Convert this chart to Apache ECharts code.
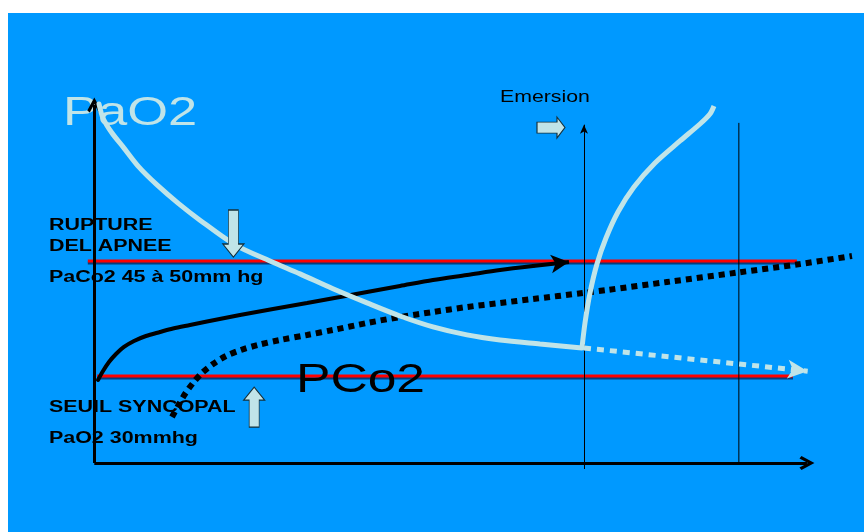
<!DOCTYPE html>
<html>
<head>
<meta charset="utf-8">
<script src="https://cdn.jsdelivr.net/npm/echarts@6/dist/echarts.min.js"></script>
<style>
html,body{margin:0;padding:0;background:#ffffff;}
#chart{width:864px;height:532px;}
</style>
</head>
<body>
<div id="chart"></div>
<script>
// ---- data (schematic units: x = time 0..100, y = pressure 0..100) ----
const xRange = [-1, 106];
const yRange = [-2, 101];

const pao2Fall = [[0.56,98.9],[1.12,95.0],[2.37,90.9],[3.91,87.1],[6.14,81.5],[8.65,76.6],[11.58,71.6],[14.64,66.9],[19.53,60.1],[24.41,55.65],[28.59,52.1],[33.19,48.0],[37.94,44.1],[42.54,40.5],[47.14,37.5],[51.88,35.3],[56.49,33.9],[62.06,32.8],[67.92,31.7]];
const pao2Rise = [[67.92,31.7],[68.34,38.57],[69.04,46.83],[70.01,54.82],[71.27,61.98],[72.94,69.15],[75.17,76.03],[78.10,82.64],[81.59,88.71],[84.38,93.39],[85.77,96.14],[86.33,98.35]];
const pao2After = [[68.2,31.7],[99.4,25.3]];

const pco2Solid = [[0.42,22.87],[1.12,25.34],[1.95,27.82],[2.93,30.03],[4.04,31.96],[5.44,33.61],[7.11,34.99],[9.07,36.09],[10.88,37.05],[13.25,38.02],[15.62,38.98],[20.22,40.77],[24.83,42.42],[29.57,44.08],[34.17,45.73],[37.94,47.11],[42.54,48.76],[47.14,50.41],[51.88,51.79],[56.49,53.17],[61.09,54.27]];
const pco2Arrow = [[61.09,54.27],[66.11,55.37]];
const pco2Dotted = [[10.74,12.67],[11.58,15.70],[12.55,19.01],[13.67,22.04],[14.92,24.79],[16.46,27.27],[18.27,29.48],[20.36,31.13],[22.73,32.51],[25.8,33.88],[29.57,35.26],[33.19,36.64],[37.94,38.57],[42.54,40.22],[47.14,41.6],[51.88,42.98],[56.49,44.08],[61.09,45.18],[68.06,46.83],[71.41,47.66],[79.78,49.86],[89.68,52.48],[98.33,54.82],[105.58,57.02]];

const ruptureLine = [[-1.0,55.65],[97.9,55.65]];
const syncopeLine = [[0.3,24.0],[97.35,24.0]];

const xAxisLine = [[-0.1,0],[99.3,0]];
const yAxisLine = [[-0.1,0],[-0.1,98.6]];
const emersionLine = [[68.2,-1.65],[68.2,93.2]];
const endLine = [[89.8,0],[89.8,93.7]];

const blockArrows = [[19.3,63.2],[22.2,15.4],[63.6,92.4]];

const labelTexts = ['PaO2','Emersion','PCo2','RUPTURE','DEL APNEE','PaCo2 45 à 50mm hg','SEUIL SYNCOPAL','PaO2 30mmhg'];
const labelPos = [[-4.46,96.2],[56.49,100.8],[28.03,22.7],[-6.42,65.3],[-6.42,59.6],[-6.42,51.1],[-6.42,15.2],[-6.42,6.6]];

// ---- styles ----
const BLUE_BG = '#0099FF';
const LIGHT = '#C0E4E8';
const CHEVRON = 'path://M0,13 L7,0 L14,13 L11.5,15 L7,6.5 L2.5,15 Z';
const arrowPaths = [
  'path://M5.5,0 L15.5,0 L15.5,34 L21,34 L10.5,47 L0,34 L5.5,34 Z',
  'path://M5.5,13 L0,13 L10.5,0 L21,13 L15.5,13 L15.5,40 L5.5,40 Z',
  'path://M0,5 L20,5 L20,0 L28,10.5 L20,21 L20,16 L0,16 Z'
];
const arrowSizes = [[21,47],[21,40],[28,21]];
const labelStyles = [
  {font:'normal 41px "Liberation Sans", Arial, sans-serif', fill:LIGHT, sx:1.28, z:1},
  {font:'normal 16px "Liberation Sans", Arial, sans-serif', fill:'#000', sx:1.33, z:10},
  {font:'normal 40px "Liberation Sans", Arial, sans-serif', fill:'#000', sx:1.29, z:10},
  {font:'bold 16px "Liberation Sans", Arial, sans-serif', fill:'#000', sx:1.34, z:10},
  {font:'bold 16px "Liberation Sans", Arial, sans-serif', fill:'#000', sx:1.34, z:10},
  {font:'bold 16px "Liberation Sans", Arial, sans-serif', fill:'#000', sx:1.34, z:10},
  {font:'bold 16px "Liberation Sans", Arial, sans-serif', fill:'#000', sx:1.34, z:10},
  {font:'bold 16px "Liberation Sans", Arial, sans-serif', fill:'#000', sx:1.34, z:10}
];

function seg(pts){ return [{coord: pts[0]}, {coord: pts[1]}]; }

const chart = echarts.init(document.getElementById('chart'), null, {renderer:'canvas'});
const redStyle = {color:'#FF0000', width:3, shadowColor:'rgba(10,30,80,0.75)', shadowOffsetY:2, shadowBlur:0};
const bg = {type:'rect', z:-10, silent:true, shape:{x:8,y:13,width:856,height:519}, style:{fill:BLUE_BG}};

const option = {
  animation: false,
  grid: {left: 87.83, right: 9.0, top: 96.37, bottom: 61.74},
  xAxis: {type:'value', min:xRange[0], max:xRange[1], show:false},
  yAxis: {type:'value', min:yRange[0], max:yRange[1], show:false},
  graphic: [bg],
  series: [
    {type:'line', z:2, data:ruptureLine, symbol:'none', lineStyle:redStyle, silent:true},
    {type:'line', z:2, data:syncopeLine, symbol:'none', lineStyle:redStyle, silent:true},
    {type:'line', z:3, data:endLine, symbol:'none', lineStyle:{color:'#000', width:1}, silent:true},
    {type:'line', z:3, data:[], silent:true,
      markLine:{silent:true, animation:false, symbol:['none',CHEVRON], symbolSize:[14,15], label:{show:false},
        lineStyle:{color:'#000', width:3, type:'solid'},
        data:[seg(xAxisLine), seg(yAxisLine)]}},
    {type:'line', z:3, data:[], silent:true,
      markLine:{silent:true, animation:false, symbol:['none','arrow'], symbolSize:[6,9], label:{show:false},
        lineStyle:{color:'#000', width:1, type:'solid'},
        data:[seg(emersionLine)]}},
    {type:'line', z:4, data:pco2Dotted, symbol:'none', smooth:0.3, silent:true,
      lineStyle:{color:'#000', width:6, type:[6,5], cap:'butt'}},
    {type:'line', z:4, data:pco2Solid, symbol:'none', smooth:0.3, silent:true,
      lineStyle:{color:'#000', width:4, cap:'round'},
      markLine:{silent:true, animation:false, symbol:['none','arrow'], symbolSize:[14,18], label:{show:false},
        lineStyle:{color:'#000', width:4, type:'solid'},
        data:[seg(pco2Arrow)]}},
    {type:'line', z:5, data:pao2Fall, symbol:'none', smooth:0.3, silent:true,
      lineStyle:{color:LIGHT, width:5, cap:'round'}},
    {type:'line', z:5, data:pao2Rise, symbol:'none', smooth:0.3, silent:true,
      lineStyle:{color:LIGHT, width:5, cap:'butt'}},
    {type:'line', z:5, data:[], silent:true,
      markLine:{silent:true, animation:false, symbol:['none','arrow'], symbolSize:[14,20], label:{show:false},
        lineStyle:{color:LIGHT, width:5, type:[7,6]},
        data:[seg(pao2After)]}},
    {type:'scatter', z:6, silent:true,
      data: blockArrows.map((p,i)=>({value:p, symbol:arrowPaths[i], symbolSize:arrowSizes[i]})),
      itemStyle:{color:LIGHT, borderColor:'#15303a', borderWidth:1, opacity:1}}
  ]
};
chart.setOption(option);

const texts = labelTexts.map((t,i)=>{
  const p = chart.convertToPixel({gridIndex:0}, labelPos[i]);
  const s = labelStyles[i];
  return {type:'text', z:s.z, silent:true, x:p[0], y:p[1], scaleX:s.sx, scaleY:1,
    style:{text:t, font:s.font, fill:s.fill, align:'left', verticalAlign:'middle'}};
});
chart.setOption({graphic: [bg].concat(texts)});
</script>
</body>
</html>
